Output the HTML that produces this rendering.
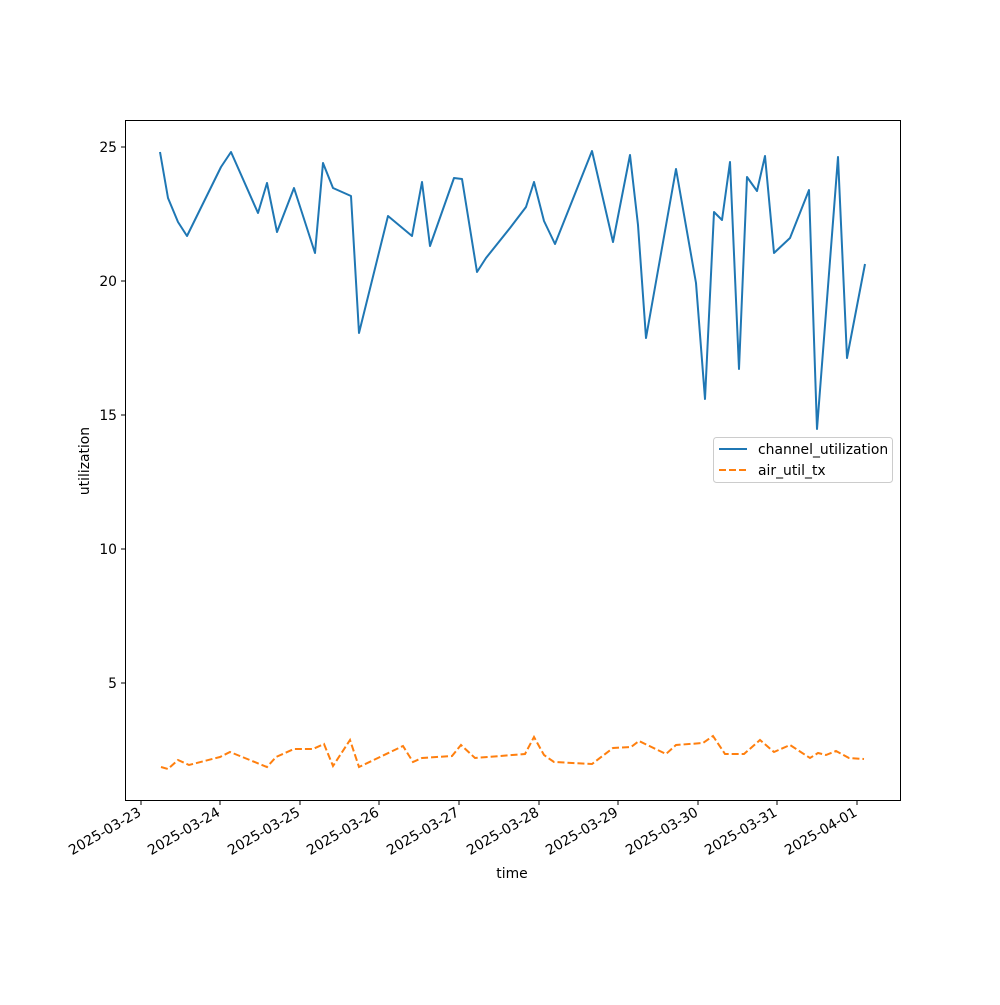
<!DOCTYPE html><html><head><style>body{margin:0;background:#fff}</style></head><body>
<svg width="1000" height="1000" viewBox="0 0 1000 1000" xmlns="http://www.w3.org/2000/svg" font-family="DejaVu Sans, Liberation Sans, sans-serif" font-size="13.9">
<rect width="1000" height="1000" fill="#fff"/>
<polyline fill="none" stroke="#1f77b4" stroke-width="2" stroke-linejoin="round" points="160,152 168,198 178,222 187,236 221,167 231,152 258,213 267,183 277,232 294,188 315,253 323,163 333,188 351,196 359,333 388,216 412,236 422,182 430,246 454,178 462,179 477,272 486,258 510,228 526,207 534,182 544,221 555,244 592,151 613,242 630,155 638,225 646,338 676,169 696,283 705,399 714,212 722,220 730,162 739,369 747,177 757,191 765,156 774,253 790,238 809,190 817,429 838,157 847,358 865,264"/>
<polyline fill="none" stroke="#ff7f0e" stroke-width="2" stroke-dasharray="7,3" points="161,767 168,769 178,760 189,765 220,757 230,752 267,767 276,757 294,749 313,749 324,744 333,766 350,740 359,767 403,746 413,762 422,758 452,756 461,745 475,758 525,754 534,737 544,755 554,762 592,764 613,748 631,747 639,741 666,754 676,745 703,743 713,736 725,754 744,754 760,740 774,752 790,745 810,758 818,753 826,755 836,751 849,758 864,759"/>
<rect x="125.5" y="120.5" width="775" height="680" fill="none" stroke="#000" stroke-width="1"/>
<g stroke="#000" stroke-width="1">
<line x1="125" y1="147" x2="121" y2="147"/><line x1="125" y1="281" x2="121" y2="281"/><line x1="125" y1="415" x2="121" y2="415"/><line x1="125" y1="549" x2="121" y2="549"/><line x1="125" y1="683" x2="121" y2="683"/>
<line x1="141" y1="800" x2="141" y2="805"/><line x1="220" y1="800" x2="220" y2="805"/><line x1="300" y1="800" x2="300" y2="805"/><line x1="379" y1="800" x2="379" y2="805"/><line x1="459" y1="800" x2="459" y2="805"/><line x1="539" y1="800" x2="539" y2="805"/><line x1="618" y1="800" x2="618" y2="805"/><line x1="698" y1="800" x2="698" y2="805"/><line x1="777" y1="800" x2="777" y2="805"/><line x1="857" y1="800" x2="857" y2="805"/>
</g>
<g text-anchor="end">
<text x="117" y="152">25</text><text x="117" y="286">20</text><text x="117" y="420">15</text><text x="117" y="554">10</text><text x="117" y="688">5</text>
</g>
<g text-anchor="end">
<text transform="translate(142,815) rotate(-30)">2025-03-23</text>
<text transform="translate(221,815) rotate(-30)">2025-03-24</text>
<text transform="translate(301,815) rotate(-30)">2025-03-25</text>
<text transform="translate(380,815) rotate(-30)">2025-03-26</text>
<text transform="translate(460,815) rotate(-30)">2025-03-27</text>
<text transform="translate(540,815) rotate(-30)">2025-03-28</text>
<text transform="translate(619,815) rotate(-30)">2025-03-29</text>
<text transform="translate(699,815) rotate(-30)">2025-03-30</text>
<text transform="translate(778,815) rotate(-30)">2025-03-31</text>
<text transform="translate(858,815) rotate(-30)">2025-04-01</text>
</g>
<text x="512" y="878" text-anchor="middle">time</text>
<text transform="translate(89,461) rotate(-90)" text-anchor="middle">utilization</text>
<rect x="713.5" y="437.5" width="179" height="45" rx="3" fill="#fff" stroke="#ccc"/>
<line x1="719" y1="449" x2="747" y2="449" stroke="#1f77b4" stroke-width="2"/>
<line x1="719" y1="470" x2="747" y2="470" stroke="#ff7f0e" stroke-width="2" stroke-dasharray="7,3"/>
<text x="758" y="454">channel_utilization</text>
<text x="758" y="475">air_util_tx</text>
</svg></body></html>
